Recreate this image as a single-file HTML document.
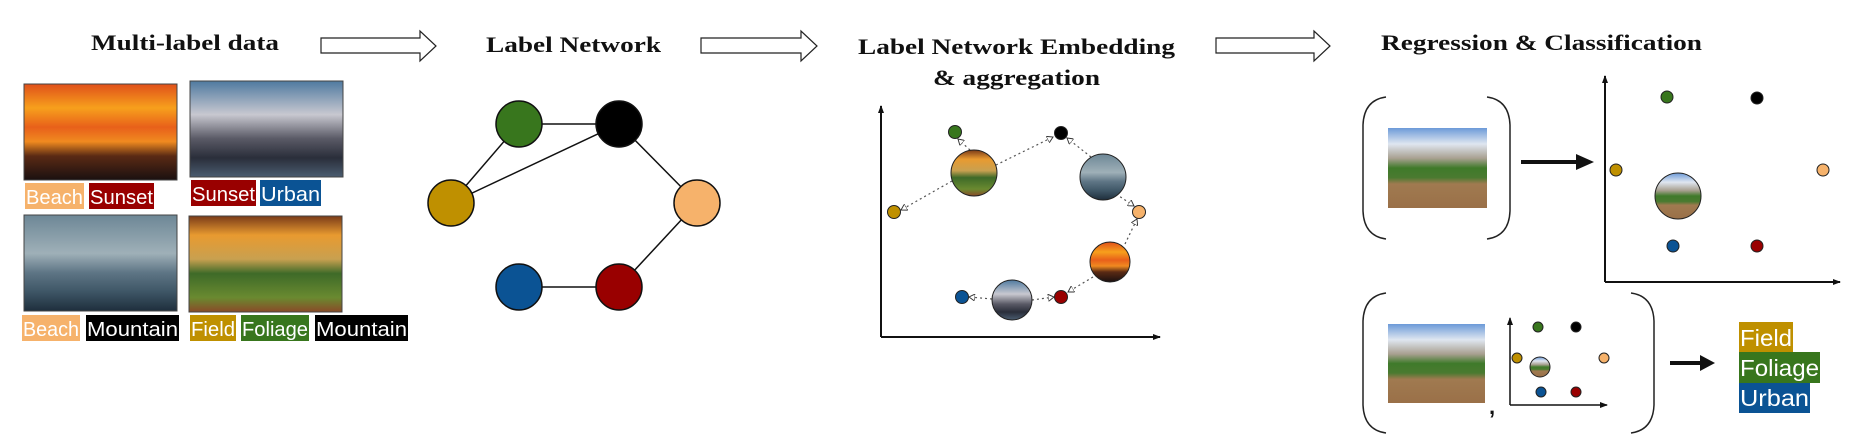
<!DOCTYPE html>
<html><head><meta charset="utf-8"><style>html,body{margin:0;padding:0;background:#fff}svg{display:block}</style></head>
<body>
<svg width="1874" height="440" viewBox="0 0 1874 440" xmlns="http://www.w3.org/2000/svg">
<defs>
<linearGradient id="sunset" x1="0" y1="0" x2="0" y2="1">
<stop offset="0" stop-color="#e0501a"/><stop offset="0.25" stop-color="#f7a01c"/><stop offset="0.45" stop-color="#e8601a"/><stop offset="0.6" stop-color="#f08a20"/><stop offset="0.75" stop-color="#5a2a14"/><stop offset="1" stop-color="#1a1010"/></linearGradient>
<linearGradient id="bridge" x1="0" y1="0" x2="0" y2="1">
<stop offset="0" stop-color="#4f7aa0"/><stop offset="0.35" stop-color="#c8c8d0"/><stop offset="0.6" stop-color="#5a5a66"/><stop offset="0.8" stop-color="#2a2e3a"/><stop offset="1" stop-color="#4a5c70"/></linearGradient>
<linearGradient id="beach" x1="0" y1="0" x2="0" y2="1">
<stop offset="0" stop-color="#6d8796"/><stop offset="0.4" stop-color="#9fb0b8"/><stop offset="0.6" stop-color="#5e7585"/><stop offset="0.8" stop-color="#3e5666"/><stop offset="1" stop-color="#1e2e3c"/></linearGradient>
<linearGradient id="field" x1="0" y1="0" x2="0" y2="1">
<stop offset="0" stop-color="#7a3a18"/><stop offset="0.2" stop-color="#e89a30"/><stop offset="0.45" stop-color="#c8a050"/><stop offset="0.6" stop-color="#3e6a28"/><stop offset="0.85" stop-color="#6a8a30"/><stop offset="1" stop-color="#8a4a28"/></linearGradient>
<linearGradient id="farm" x1="0" y1="0" x2="0" y2="1">
<stop offset="0" stop-color="#6c9ad8"/><stop offset="0.2" stop-color="#dfe6f0"/><stop offset="0.38" stop-color="#a8a090"/><stop offset="0.5" stop-color="#3f7a2a"/><stop offset="0.62" stop-color="#4a7a30"/><stop offset="0.7" stop-color="#a07a50"/><stop offset="1" stop-color="#9a7048"/></linearGradient>
<marker id="ah" markerWidth="6" markerHeight="6" refX="5" refY="3" orient="auto"><path d="M0,0 L5,3 L0,6 z" fill="#fff" stroke="#333" stroke-width="0.8"/></marker>
<marker id="ab" markerWidth="8" markerHeight="8" refX="7" refY="4" orient="auto" markerUnits="userSpaceOnUse"><path d="M0,1 L8,4 L0,7 z" fill="#111"/></marker>
</defs>

<g font-family="Liberation Serif, serif" font-weight="bold" font-size="22" fill="#111">
<text x="91" y="50" textLength="188" lengthAdjust="spacingAndGlyphs">Multi-label data</text>
<text x="486" y="52" textLength="175" lengthAdjust="spacingAndGlyphs">Label Network</text>
<text x="858" y="54" textLength="317" lengthAdjust="spacingAndGlyphs">Label Network Embedding</text>
<text x="933" y="85" textLength="167" lengthAdjust="spacingAndGlyphs">&amp; aggregation</text>
<text x="1381" y="50" textLength="321" lengthAdjust="spacingAndGlyphs">Regression &amp; Classification</text>
</g>

<g fill="#fff" stroke="#222" stroke-width="1.2">
<path d="M321,38 H420 V31 L436,46 L420,61 V53 H321 Z"/>
<path d="M701,38 H801 V31 L817,46 L801,61 V53 H701 Z"/>
<path d="M1216,38 H1314 V31 L1330,46 L1314,61 V53 H1216 Z"/>
</g>

<rect x="24" y="84" width="153" height="96" fill="url(#sunset)" stroke="#444"/>
<rect x="190" y="81" width="153" height="96" fill="url(#bridge)" stroke="#444"/>
<rect x="24" y="215" width="153" height="96" fill="url(#beach)" stroke="#444"/>
<rect x="189" y="216" width="153" height="96" fill="url(#field)" stroke="#444"/>

<g font-family="Liberation Sans, sans-serif" font-size="20" fill="#fff">
<rect x="25" y="183" width="59" height="26" fill="#f6b26b"/><text x="26" y="204" textLength="57" lengthAdjust="spacingAndGlyphs">Beach</text>
<rect x="89" y="183" width="65" height="26" fill="#990000"/><text x="90" y="204" textLength="63" lengthAdjust="spacingAndGlyphs">Sunset</text>
<rect x="191" y="180" width="65" height="26" fill="#990000"/><text x="192" y="201" textLength="63" lengthAdjust="spacingAndGlyphs">Sunset</text>
<rect x="260" y="180" width="61" height="26" fill="#0b5394"/><text x="261" y="201" textLength="59" lengthAdjust="spacingAndGlyphs">Urban</text>
<rect x="22" y="315" width="58" height="26" fill="#f6b26b"/><text x="23" y="336" textLength="56" lengthAdjust="spacingAndGlyphs">Beach</text>
<rect x="86" y="315" width="93" height="26" fill="#000"/><text x="87" y="336" textLength="91" lengthAdjust="spacingAndGlyphs">Mountain</text>
<rect x="190" y="315" width="46" height="26" fill="#bf9000"/><text x="191" y="336" textLength="44" lengthAdjust="spacingAndGlyphs">Field</text>
<rect x="241" y="315" width="68" height="26" fill="#38761d"/><text x="242" y="336" textLength="66" lengthAdjust="spacingAndGlyphs">Foliage</text>
<rect x="315" y="315" width="93" height="26" fill="#000"/><text x="316" y="336" textLength="91" lengthAdjust="spacingAndGlyphs">Mountain</text>
<rect x="1739" y="322" width="54" height="31" fill="#bf9000"/><text x="1740" y="346" font-size="23" textLength="52" lengthAdjust="spacingAndGlyphs">Field</text>
<rect x="1739" y="352" width="81" height="31" fill="#38761d"/><text x="1740" y="376" font-size="23" textLength="79" lengthAdjust="spacingAndGlyphs">Foliage</text>
<rect x="1739" y="383" width="71" height="30" fill="#0b5394"/><text x="1740" y="406" font-size="23" textLength="69" lengthAdjust="spacingAndGlyphs">Urban</text>
</g>

<g stroke="#111" stroke-width="1.5">
<line x1="519" y1="124" x2="619" y2="124"/>
<line x1="519" y1="124" x2="451" y2="203"/>
<line x1="451" y1="203" x2="619" y2="124"/>
<line x1="619" y1="124" x2="697" y2="203"/>
<line x1="697" y1="203" x2="619" y2="287"/>
<line x1="519" y1="287" x2="619" y2="287"/>
<circle cx="519" cy="124" r="23" fill="#38761d"/>
<circle cx="619" cy="124" r="23" fill="#000"/>
<circle cx="451" cy="203" r="23" fill="#bf9000"/>
<circle cx="697" cy="203" r="23" fill="#f6b26b"/>
<circle cx="519" cy="287" r="23" fill="#0b5394"/>
<circle cx="619" cy="287" r="23" fill="#990000"/>
</g>

<g stroke="#111" stroke-width="2" fill="none">
<line x1="881" y1="337" x2="881" y2="106" marker-end="url(#ab)"/>
<line x1="881" y1="337" x2="1160" y2="337" marker-end="url(#ab)"/>
</g>
<g stroke="#555" stroke-width="1.2" stroke-dasharray="2,3" fill="none" marker-end="url(#ah)">
<line x1="970" y1="150" x2="958" y2="139"/>
<line x1="996" y1="165" x2="1053" y2="137"/>
<line x1="952" y1="181" x2="901" y2="210"/>
<line x1="1091" y1="157" x2="1067" y2="138"/>
<line x1="1116" y1="194" x2="1134" y2="206"/>
<line x1="1125" y1="244" x2="1137" y2="219"/>
<line x1="1093" y1="277" x2="1068" y2="292"/>
<line x1="1032" y1="300" x2="1054" y2="297"/>
<line x1="992" y1="299" x2="969" y2="297"/>
</g>
<g stroke="#222" stroke-width="1">
<circle cx="955" cy="132" r="6.5" fill="#38761d"/>
<circle cx="1061" cy="133" r="6.5" fill="#000"/>
<circle cx="894" cy="212" r="6.5" fill="#bf9000"/>
<circle cx="1139" cy="212" r="6.5" fill="#f6b26b"/>
<circle cx="962" cy="297" r="6.5" fill="#0b5394"/>
<circle cx="1061" cy="297" r="6.5" fill="#990000"/>
<circle cx="974" cy="173" r="23" fill="url(#field)"/>
<circle cx="1103" cy="177" r="23" fill="url(#beach)"/>
<circle cx="1110" cy="262" r="20" fill="url(#sunset)"/>
<circle cx="1012" cy="300" r="20" fill="url(#bridge)"/>
</g>

<g stroke="#222" stroke-width="1.5" fill="none">
<path d="M1386,97 Q1364,100 1363,125 V211 Q1364,236 1386,239"/>
<path d="M1487,97 Q1509,100 1510,125 V211 Q1509,236 1487,239"/>
<path d="M1386,293 Q1364,296 1363,321 V405 Q1364,430 1386,433"/>
<path d="M1631,293 Q1653,296 1654,321 V405 Q1653,430 1631,433"/>
</g>
<rect x="1388" y="128" width="99" height="80" fill="url(#farm)"/>
<rect x="1388" y="324" width="97" height="79" fill="url(#farm)"/>
<line x1="1521" y1="162" x2="1578" y2="162" stroke="#111" stroke-width="4"/>
<path d="M1576,154 L1594,162 L1576,170 z" fill="#111"/>
<line x1="1670" y1="363" x2="1702" y2="363" stroke="#111" stroke-width="4"/>
<path d="M1700,355 L1715,363 L1700,371 z" fill="#111"/>
<g stroke="#111" stroke-width="2" fill="none">
<line x1="1605" y1="282" x2="1605" y2="76" marker-end="url(#ab)"/>
<line x1="1605" y1="282" x2="1840" y2="282" marker-end="url(#ab)"/>
<line x1="1510" y1="405" x2="1510" y2="318" stroke-width="1.5" marker-end="url(#ab)"/>
<line x1="1510" y1="405" x2="1607" y2="405" stroke-width="1.5" marker-end="url(#ab)"/>
</g>
<text x="1489" y="414" font-family="Liberation Sans, sans-serif" font-size="22" font-weight="bold" fill="#111">,</text>
<g stroke="#222" stroke-width="1">
<circle cx="1667" cy="97" r="6" fill="#38761d"/>
<circle cx="1757" cy="98" r="6" fill="#000"/>
<circle cx="1616" cy="170" r="6" fill="#bf9000"/>
<circle cx="1823" cy="170" r="6" fill="#f6b26b"/>
<circle cx="1673" cy="246" r="6" fill="#0b5394"/>
<circle cx="1757" cy="246" r="6" fill="#990000"/>
<circle cx="1678" cy="196" r="23" fill="url(#farm)"/>
<circle cx="1538" cy="327" r="5" fill="#38761d"/>
<circle cx="1576" cy="327" r="5" fill="#000"/>
<circle cx="1517" cy="358" r="5" fill="#bf9000"/>
<circle cx="1604" cy="358" r="5" fill="#f6b26b"/>
<circle cx="1541" cy="392" r="5" fill="#0b5394"/>
<circle cx="1576" cy="392" r="5" fill="#990000"/>
<circle cx="1540" cy="367" r="10" fill="url(#farm)"/>
</g>
</svg>
</body></html>
